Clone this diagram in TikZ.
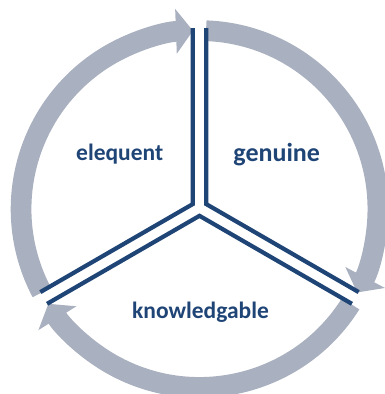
\documentclass[tikz,border=0pt]{standalone}
\usepackage{fontspec}
\setmainfont{Carlito}
\usepackage{tikz}
\usetikzlibrary{arrows.meta}
\usetikzlibrary{calc}
\definecolor{ringgray}{RGB}{169,176,191}
\definecolor{darkblue}{RGB}{31,68,118}
\tikzset{
	ring/.style={draw=ringgray, line width=20.7pt, -{Triangle[width=44pt,length=17pt]}},
	divider/.style={draw=darkblue, line width=4.2pt, line join=miter},
	segtext/.style={font=\bfseries\fontsize{23.5}{28}\selectfont, text=darkblue, anchor=base, inner sep=0pt}
}
\begin{document}
\begin{tikzpicture}[x=1pt,y=1pt]
	\useasboundingbox (-199.5,-186) rectangle (185.5,208);
	\coordinate (O) at (0,0);
	\coordinate (M) at (0,-1);
	\coordinate (cA) at (150:7.8);
	\coordinate (cB) at (30:7.8);
	\coordinate (cC) at (270:7.8);
	% ring
	\draw[ring] ($(M)+(207.9:178.4)$) arc[start angle=207.9, end angle=92.1, radius=178.4];
	\draw[ring] ($(M)+(87.9:178.4)$) arc[start angle=87.9, end angle=-27.9, radius=178.4];
	\draw[ring] ($(M)+(-32.1:178.4)$) arc[start angle=-32.1, end angle=-147.9, radius=178.4];
	% dividers
	\draw[divider] ($(cA)+(90:176)$) -- (cA) -- ($(cA)+(210:176)$);
	\draw[divider] ($(cB)+(90:176)$) -- (cB) -- ($(cB)+(-30:176)$);
	\draw[divider] ($(cC)+(210:176)$) -- (cC) -- ($(cC)+(-30:176)$);
	\node[segtext] (elequent) at (-79.8,48) {elequent};
	\node[segtext, font=\bfseries\fontsize{26}{30}\selectfont] (genuine) at (77.2,46.3) {genuine};
	\node[segtext] (knowledgable) at (1,-110) {knowledgable};
\end{tikzpicture}
\end{document}
